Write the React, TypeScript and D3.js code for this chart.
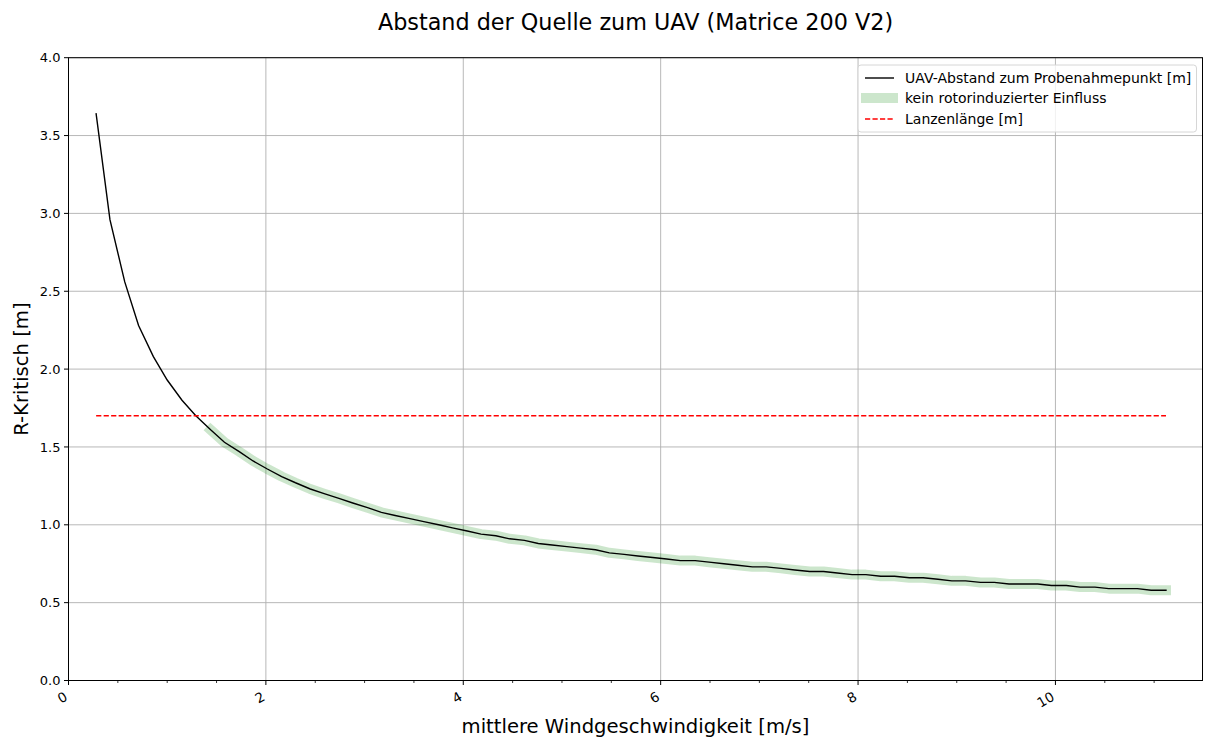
import React from "react";
import * as d3 from "d3";

const windSpeed = [
  0.28, 0.42, 0.57, 0.71, 0.86, 1.0, 1.15, 1.29, 1.44, 1.58, 1.73, 1.87, 2.01, 2.16, 2.3, 2.45,
  2.59, 2.74, 2.88, 3.03, 3.17, 3.31, 3.46, 3.6, 3.75, 3.89, 4.04, 4.18, 4.33, 4.47, 4.62, 4.76,
  4.9, 5.05, 5.19, 5.34, 5.48, 5.63, 5.77, 5.92, 6.06, 6.2, 6.35, 6.49, 6.64, 6.78, 6.93, 7.07,
  7.22, 7.36, 7.51, 7.65, 7.79, 7.94, 8.08, 8.23, 8.37, 8.52, 8.66, 8.81, 8.95, 9.09, 9.24, 9.38,
  9.53, 9.67, 9.82, 9.96, 10.11, 10.25, 10.4, 10.54, 10.68, 10.83, 10.97, 11.12,
];
const rKritisch = [
  3.64, 2.96, 2.56, 2.28, 2.08, 1.93, 1.8, 1.7, 1.61, 1.53, 1.47, 1.41, 1.36, 1.31, 1.27, 1.23,
  1.2, 1.17, 1.14, 1.11, 1.08, 1.06, 1.04, 1.02, 1.0, 0.98, 0.96, 0.94, 0.93, 0.91, 0.9, 0.88,
  0.87, 0.86, 0.85, 0.84, 0.82, 0.81, 0.8, 0.79, 0.78, 0.77, 0.77, 0.76, 0.75, 0.74, 0.73, 0.73,
  0.72, 0.71, 0.7, 0.7, 0.69, 0.68, 0.68, 0.67, 0.67, 0.66, 0.66, 0.65, 0.64, 0.64, 0.63, 0.63,
  0.62, 0.62, 0.62, 0.61, 0.61, 0.6, 0.6, 0.59, 0.59, 0.59, 0.58, 0.58,
];
const lanzenLaenge = 1.7;
const xTicks = [0, 2, 4, 6, 8, 10];
const xMinorTicks = [0.5, 1, 1.5, 2.5, 3, 3.5, 4.5, 5, 5.5, 6.5, 7, 7.5, 8.5, 9, 9.5, 10.5, 11];
const yTicks = [0, 0.5, 1, 1.5, 2, 2.5, 3, 3.5, 4];
const legendLabels = [
  "UAV-Abstand zum Probenahmepunkt [m]",
  "kein rotorinduzierter Einfluss",
  "Lanzenlänge [m]",
];
const title = "Abstand der Quelle zum UAV (Matrice 200 V2)";
const xLabel = "mittlere Windgeschwindigkeit [m/s]";
const yLabel = "R-Kritisch [m]";

const W = 1205;
const H = 738;
const L = 68.5;
const R = 1202.5;
const T = 57.7;
const B = 680.5;
const FONT = "DejaVu Sans, sans-serif";

export default function App() {
  const x = d3.scaleLinear().domain([0, 11.49]).range([L, R]);
  const y = d3.scaleLinear().domain([0, 4]).range([B, T]);
  const pts = windSpeed.map((w, i) => [w, rKritisch[i]] as [number, number]);
  const line = d3
    .line<[number, number]>()
    .x((d) => x(d[0]))
    .y((d) => y(d[1]));
  const safe = pts.filter((d) => d[1] < lanzenLaenge);
  const xMin = d3.min(windSpeed) as number;
  const xMax = d3.max(windSpeed) as number;

  const lx = 858;
  const ly = 65;
  return (
    <svg
      width={W}
      height={H}
      style={{ position: "absolute", left: 0, top: 0, background: "#fff" }}
      fontFamily={FONT}
    >
      <rect x={0} y={0} width={W} height={H} fill="#fff" />
      {/* grid */}
      {xTicks.map((t) => (
        <line key={"gx" + t} x1={x(t)} x2={x(t)} y1={T} y2={B} stroke="#b0b0b0" strokeWidth={0.9} />
      ))}
      {yTicks.map((t) => (
        <line key={"gy" + t} x1={L} x2={R} y1={y(t)} y2={y(t)} stroke="#b0b0b0" strokeWidth={0.9} />
      ))}
      {/* green band */}
      <path
        d={line(safe) || ""}
        fill="none"
        stroke="rgb(0,128,0)"
        strokeOpacity={0.2}
        strokeWidth={10}
        strokeLinecap="square"
        strokeLinejoin="round"
      />
      {/* main line */}
      <path d={line(pts) || ""} fill="none" stroke="#000" strokeWidth={1.4} strokeLinecap="square" />
      {/* red dashed */}
      <line
        x1={x(xMin)}
        x2={x(xMax)}
        y1={y(lanzenLaenge)}
        y2={y(lanzenLaenge)}
        stroke="red"
        strokeWidth={1.4}
        strokeDasharray="5.2,2.3"
      />
      {/* spines */}
      <rect x={L} y={T} width={R - L} height={B - T} fill="none" stroke="#000" strokeWidth={1} />
      {/* y ticks */}
      {yTicks.map((t) => (
        <g key={"yt" + t}>
          <line x1={L - 4.5} x2={L} y1={y(t)} y2={y(t)} stroke="#000" strokeWidth={1} />
          <text x={L - 8} y={y(t)} dy="0.35em" textAnchor="end" fontSize={13} fill="#000">
            {t.toFixed(1)}
          </text>
        </g>
      ))}
      {/* x ticks */}
      {xTicks.map((t) => (
        <g key={"xt" + t}>
          <line x1={x(t)} x2={x(t)} y1={B} y2={B + 4.5} stroke="#000" strokeWidth={1} />
          <text
            transform={`translate(${x(t)},${B + 19}) rotate(-30)`}
            textAnchor="end"
            fontSize={13.5}
            fill="#000"
          >
            {String(t)}
          </text>
        </g>
      ))}
      {xMinorTicks.map((t) => (
        <line key={"xm" + t} x1={x(t)} x2={x(t)} y1={B} y2={B + 2.5} stroke="#000" strokeWidth={0.8} />
      ))}
      {/* labels */}
      <text x={(L + R) / 2} y={30} textAnchor="middle" fontSize={22.3} fill="#000">
        {title}
      </text>
      <text x={(L + R) / 2} y={733} textAnchor="middle" fontSize={19.6} fill="#000">
        {xLabel}
      </text>
      <text
        transform={`translate(28,${(T + B) / 2}) rotate(-90)`}
        textAnchor="middle"
        fontSize={19.6}
        fill="#000"
      >
        {yLabel}
      </text>
      {/* legend */}
      <rect
        x={lx}
        y={ly}
        width={1196.5 - lx}
        height={67}
        rx={3}
        fill="#fff"
        fillOpacity={0.8}
        stroke="#d6d6d6"
        strokeWidth={1}
      />
      <line x1={lx + 7} x2={lx + 36} y1={ly + 13} y2={ly + 13} stroke="#000" strokeWidth={1.4} />
      <line
        x1={lx + 3}
        x2={lx + 40}
        y1={ly + 33}
        y2={ly + 33}
        stroke="rgb(0,128,0)"
        strokeOpacity={0.2}
        strokeWidth={10}
      />
      <line
        x1={lx + 7}
        x2={lx + 36}
        y1={ly + 54}
        y2={ly + 54}
        stroke="red"
        strokeWidth={1.4}
        strokeDasharray="5.2,2.3"
      />
      {legendLabels.map((s, i) => (
        <text key={s} x={lx + 47} y={ly + 13 + i * 20.5} dy="0.35em" fontSize={14} fill="#000">
          {s}
        </text>
      ))}
    </svg>
  );
}
